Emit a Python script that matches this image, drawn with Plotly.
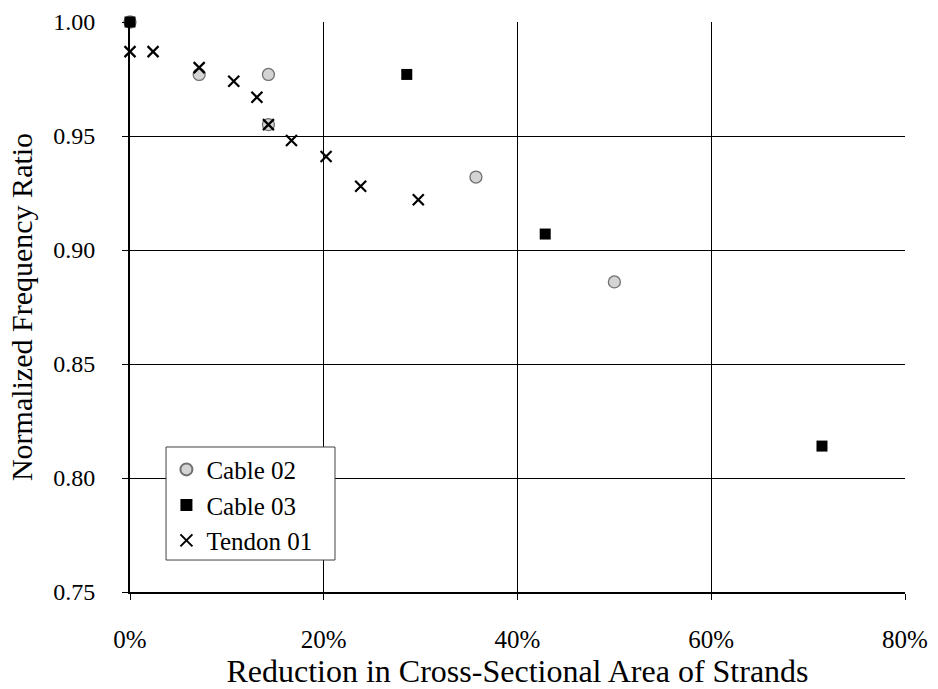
import plotly.graph_objects as go

cable02_x = [0.0, 0.0714, 0.1429, 0.1429, 0.3571, 0.5000]
cable02_y = [1.000, 0.977, 0.977, 0.955, 0.932, 0.886]

cable03_x = [0.0, 0.2857, 0.4286, 0.7143]
cable03_y = [1.000, 0.977, 0.907, 0.814]

tendon01_x = [0.0, 0.0238, 0.0714, 0.1071, 0.1310, 0.1429, 0.1667, 0.2024, 0.2381, 0.2976]
tendon01_y = [0.987, 0.987, 0.980, 0.974, 0.967, 0.955, 0.948, 0.941, 0.928, 0.922]

x_ticks = [0, 0.2, 0.4, 0.6, 0.8]
y_ticks = [0.75, 0.80, 0.85, 0.90, 0.95, 1.00]

font_family = "Liberation Serif, Times New Roman, serif"

fig = go.Figure()
fig.add_trace(go.Scatter(
    x=cable02_x, y=cable02_y, mode="markers", name="Cable 02",
    marker=dict(symbol="circle", size=12, color="#d4d4d4",
                line=dict(color="#707070", width=1.3)),
    cliponaxis=False))
fig.add_trace(go.Scatter(
    x=cable03_x, y=cable03_y, mode="markers", name="Cable 03",
    marker=dict(symbol="square", size=11, color="black",
                line=dict(color="black", width=0)),
    cliponaxis=False))
fig.add_trace(go.Scatter(
    x=tendon01_x, y=tendon01_y, mode="markers", name="Tendon 01",
    marker=dict(symbol="x-thin", size=11, color="black",
                line=dict(color="black", width=2.2)),
    cliponaxis=False))

# legend frame (white box hiding gridlines, with thin border)
fig.add_shape(type="rect", xref="paper", yref="paper",
              x0=0.0465, x1=0.2645, y0=0.0561, y1=0.2544,
              fillcolor="white", line=dict(color="#404040", width=1),
              layer="above")

fig.update_layout(
    width=938, height=689,
    margin=dict(l=130, r=33, t=22, b=97, autoexpand=False),
    paper_bgcolor="white", plot_bgcolor="white",
    font=dict(family=font_family, size=25, color="black"),
    showlegend=True,
    legend=dict(
        x=0.047, y=0.255, xanchor="left", yanchor="top",
        bgcolor="rgba(0,0,0,0)", borderwidth=0,
        font=dict(family=font_family, size=25, color="black"),
        itemsizing="constant", tracegroupgap=0,
    ),
    xaxis=dict(
        range=[0, 0.8], tickvals=x_ticks, tickformat=".0%",
        showgrid=True, gridcolor="black", gridwidth=1.2,
        showline=True, linecolor="black", linewidth=2, mirror=False,
        ticks="outside", ticklen=6, tickcolor="black", tickwidth=1,
        zeroline=False, ticklabelstandoff=18, automargin=False,
        title=dict(text="Reduction in Cross-Sectional Area of Strands",
                   font=dict(family=font_family, size=32), standoff=4),
        tickfont=dict(family=font_family, size=25),
    ),
    yaxis=dict(
        range=[0.75, 1.00], tickvals=y_ticks, tickformat=".2f",
        showgrid=True, gridcolor="black", gridwidth=1.2,
        showline=True, linecolor="black", linewidth=2,
        ticks="outside", ticklen=6, tickcolor="black", tickwidth=1,
        zeroline=False, ticklabelstandoff=22, automargin=False,
        title=dict(text="Normalized Frequency Ratio",
                   font=dict(family=font_family, size=30), standoff=12),
        tickfont=dict(family=font_family, size=24),
    ),
)

fig.write_html("out.html")
